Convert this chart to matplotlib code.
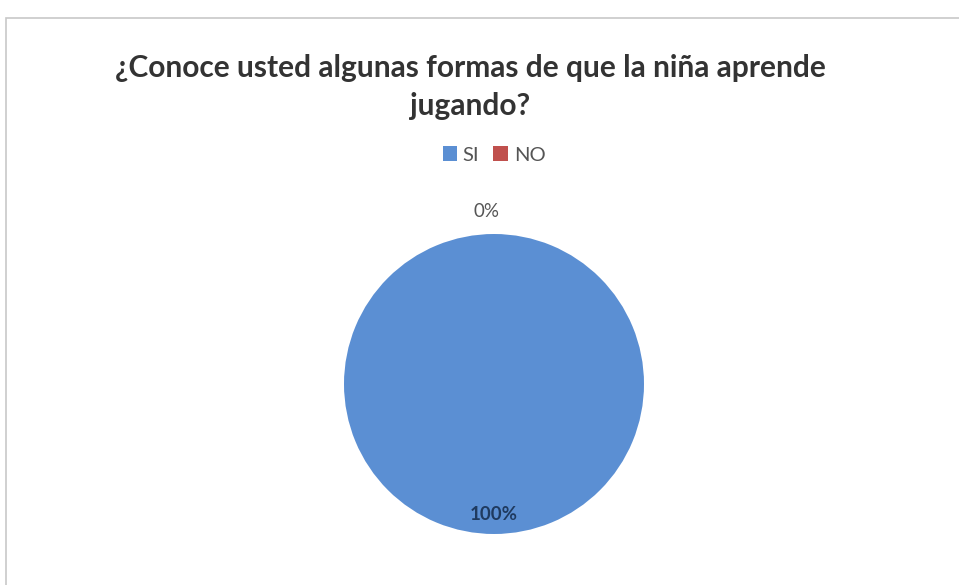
import matplotlib.pyplot as plt
import numpy as np
from matplotlib.patches import Rectangle, Patch

categories = ['SI', 'NO']
values = [100, 0]
pct_labels = ['100%', '0%']
colors = ['#5B8FD3', '#C0504D']

plt.rcParams['font.family'] = ['Lato', 'DejaVu Sans']

fig = plt.figure(figsize=(9.59, 5.85), dpi=100)
fig.patch.set_facecolor('white')

# chart frame (only top and left edges are visible in the scan)
fig.patches.append(Rectangle((6 / 959, -0.05), 1.2, 1 - 18 / 585 + 0.05,
                             transform=fig.transFigure, fill=False,
                             edgecolor='#c8c8c8', linewidth=1.2))

fig.text(470 / 959, 1 - 68 / 585, '¿Conoce usted algunas formas de que la niña aprende',
         ha='center', va='center', fontsize=21.5, fontweight='bold', color='#333333')
fig.text(470 / 959, 1 - 106 / 585, 'jugando?',
         ha='center', va='center', fontsize=21.5, fontweight='bold', color='#333333')

handles = [Patch(facecolor=c, edgecolor='none') for c in colors]
fig.legend(handles, categories, loc='center', bbox_to_anchor=(494 / 959, 1 - 155 / 585),
           ncol=2, frameon=False, fontsize=14.5, handlelength=0.7, handleheight=0.7,
           handletextpad=0.3, columnspacing=0.7, labelcolor='#555555')

r = 150
cx, cy = 494, 384
ax = fig.add_axes([(cx - r) / 959, 1 - (cy + r) / 585, 2 * r / 959, 2 * r / 585])
wedges, _ = ax.pie(values, colors=colors, startangle=90, counterclock=False,
                   wedgeprops=dict(linewidth=0))
ax.set_xlim(-1, 1)
ax.set_ylim(-1, 1)
ax.set_aspect('auto')

# data labels at each wedge's mid angle
dists = [0.87, 1.15]
txt_colors = ['#1f3a5f', '#555555']
weights = ['bold', 'normal']
for w, lab, d, tc, fw in zip(wedges, pct_labels, dists, txt_colors, weights):
    ang = np.deg2rad((w.theta1 + w.theta2) / 2)
    ax.text(d * np.cos(ang) - 0.05 * (lab == '0%'), d * np.sin(ang), lab,
            ha='center', va='center', fontsize=13.5, color=tc, fontweight=fw,
            clip_on=False)

fig.savefig('out.png', dpi=100)
